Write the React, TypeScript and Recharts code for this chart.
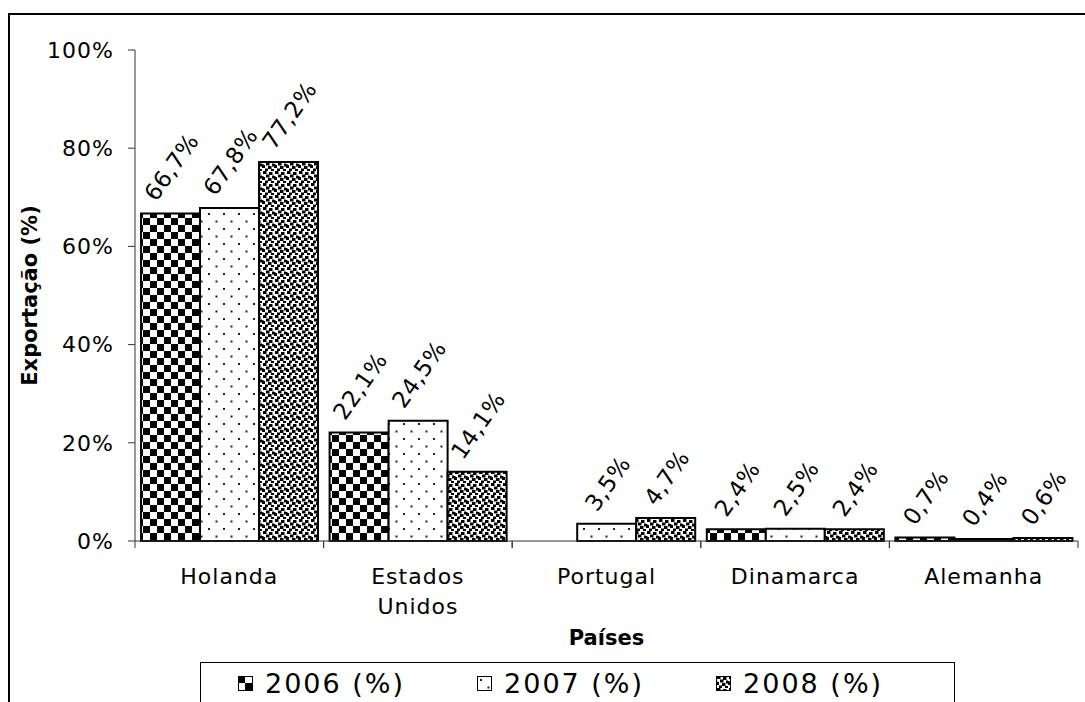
import { BarChart, Bar, XAxis, YAxis } from "recharts";

const countries = ["Holanda", "Estados Unidos", "Portugal", "Dinamarca", "Alemanha"];
const y2006 = [66.7, 22.1, null, 2.4, 0.7];
const y2007 = [67.8, 24.5, 3.5, 2.5, 0.4];
const y2008 = [77.2, 14.1, 4.7, 2.4, 0.6];
const yTicks = [0, 20, 40, 60, 80, 100];
const seriesNames = ["2006 (%)", "2007 (%)", "2008 (%)"];

const data = countries.map((c, i) => ({
  country: c,
  s2006: y2006[i],
  s2007: y2007[i],
  s2008: y2008[i],
}));

const FONT = "'DejaVu Sans', Verdana, sans-serif";
const CHART_W = 1075;
const CHART_H = 687;
const MARGIN = { top: 35, right: 7, left: 0, bottom: 51 };
const Y_W = 125;
const PLOT_W = CHART_W - MARGIN.left - MARGIN.right - Y_W;
const LABEL_SIZE = 23;
const LABEL_ANGLE = 55;

const charW = (ch: string) => (ch === "," ? 0.318 : ch === "%" ? 0.95 : 0.636);
const textWidth = (s: string) =>
  s.split("").reduce((a, ch) => a + charW(ch) * LABEL_SIZE + 0.5, 0);

const fmt = (v: number) => v.toFixed(1).replace(".", ",") + "%";

function BarLabel(props: any) {
  const { value } = props;
  if (value == null) return null;
  const x = Number(props.x);
  const y = Number(props.y);
  const width = Number(props.width);
  const s = fmt(value);
  const w = textWidth(s);
  const rad = (LABEL_ANGLE * Math.PI) / 180;
  const halfH = (w * Math.sin(rad) + 16 * Math.cos(rad)) / 2;
  const cx = x + width / 2 + 1;
  const cy = y - 11 - halfH;
  return (
    <text
      x={cx}
      y={cy}
      textAnchor="middle"
      dominantBaseline="central"
      transform={`rotate(-${LABEL_ANGLE} ${cx} ${cy})`}
      fontFamily={FONT}
      fontSize={LABEL_SIZE}
      letterSpacing={0.5}
      fill="#000"
    >
      {s}
    </text>
  );
}

function CountryTick(props: any) {
  const { x, y, payload } = props;
  const band = PLOT_W / countries.length;
  const lines = String(payload.value).split(" ");
  return (
    <g>
      <line x1={x - band / 2} x2={x - band / 2} y1={y} y2={y + 7} stroke="#333" />
      <line x1={x + band / 2} x2={x + band / 2} y1={y} y2={y + 7} stroke="#333" />
      <text
        x={x}
        y={y + 43}
        textAnchor="middle"
        fontFamily={FONT}
        fontSize={22}
        letterSpacing={1}
        fill="#000"
      >
        {lines.map((l, i) => (
          <tspan key={i} x={x} dy={i === 0 ? 0 : 30}>
            {l}
          </tspan>
        ))}
      </text>
    </g>
  );
}

function YTitle(props: any) {
  const vb = props.viewBox || { x: 0, y: 0, height: 0 };
  const cx = vb.x + 20;
  const cy = vb.y + vb.height / 2;
  return (
    <text
      x={cx}
      y={cy}
      textAnchor="middle"
      dominantBaseline="central"
      transform={`rotate(-90 ${cx} ${cy})`}
      fontFamily={FONT}
      fontSize={21}
      fontWeight="bold"
      fill="#000"
    >
      Exportação (%)
    </text>
  );
}

function Patterns() {
  return (
    <svg width={0} height={0} style={{ position: "absolute" }}>
      <defs>
        <pattern id="p2006" patternUnits="userSpaceOnUse" width={14} height={14}>
          <rect width={14} height={14} fill="#fff" />
          <rect x={0} y={0} width={7} height={7} fill="#000" />
          <rect x={7} y={7} width={7} height={7} fill="#000" />
        </pattern>
        <pattern id="p2007" patternUnits="userSpaceOnUse" width={15} height={15}>
          <rect width={15} height={15} fill="#fff" />
          <rect x={3} y={3} width={2} height={2} fill="#222" />
          <rect x={10.5} y={10.5} width={2} height={2} fill="#222" />
        </pattern>
        <pattern id="p2008" patternUnits="userSpaceOnUse" width={12} height={12}>
          <rect width={12} height={12} fill="#fff" />
          <rect x={1} y={0} width={3.5} height={3} fill="#000" />
          <rect x={7} y={1} width={3.5} height={3} fill="#000" />
          <rect x={4} y={3.5} width={3.5} height={3} fill="#000" />
          <rect x={10} y={4.5} width={2} height={3} fill="#000" />
          <rect x={0} y={5} width={1.5} height={3} fill="#000" />
          <rect x={0} y={6} width={3} height={3} fill="#000" />
          <rect x={6} y={7} width={3.5} height={3} fill="#000" />
          <rect x={3} y={9.5} width={3} height={2.5} fill="#000" />
          <rect x={9} y={10} width={3} height={2} fill="#000" />
        </pattern>
      </defs>
    </svg>
  );
}

const fills = ["url(#p2006)", "url(#p2007)", "url(#p2008)"];

export default function App() {
  return (
    <div style={{ position: "relative", width: 1085, height: 702, overflow: "hidden" }}>
      <style>{`body{margin:0;overflow:hidden}`}</style>
      <Patterns />
      <div
        style={{
          position: "absolute",
          left: 8,
          top: 13,
          width: CHART_W,
          height: CHART_H,
          borderLeft: "2px solid #000",
          borderTop: "2px solid #000",
          background: "#fff",
        }}
      >
        <BarChart
          width={CHART_W}
          height={CHART_H}
          data={data}
          margin={MARGIN}
          barCategoryGap={6}
          barGap={0}
        >
          <XAxis
            dataKey="country"
            height={110}
            stroke="#333"
            tickLine={false}
            tickSize={0}
            tickMargin={0}
            interval={0}
            tick={<CountryTick />}
            label={{
              value: "Países",
              position: "insideBottom",
              offset: 6,
              fontFamily: FONT,
              fontSize: 21,
              fontWeight: "bold",
              fill: "#000",
            }}
          />
          <YAxis
            width={Y_W}
            domain={[0, 100]}
            ticks={yTicks}
            interval={0}
            tickFormatter={(v) => `${v}%`}
            stroke="#333"
            tickSize={7}
            tickMargin={14}
            tick={{ fontFamily: FONT, fontSize: 22, fill: "#000", letterSpacing: 1 }}
            label={<YTitle />}
          />
          <Bar dataKey="s2006" fill={fills[0]} stroke="#000" strokeWidth={2} isAnimationActive={false} label={<BarLabel />} />
          <Bar dataKey="s2007" fill={fills[1]} stroke="#000" strokeWidth={2} isAnimationActive={false} label={<BarLabel />} />
          <Bar dataKey="s2008" fill={fills[2]} stroke="#000" strokeWidth={2} isAnimationActive={false} label={<BarLabel />} />
        </BarChart>
      </div>
      <div
        style={{
          position: "absolute",
          left: 200,
          top: 662,
          width: 755,
          height: 50,
          border: "1px solid #000",
          boxSizing: "border-box",
          display: "flex",
          alignItems: "flex-start",
          paddingLeft: 37,
          paddingTop: 4,
          gap: 72,
          fontFamily: FONT,
          fontSize: 27,
          letterSpacing: 2,
          background: "#fff",
        }}
      >
        {seriesNames.map((n, i) => (
          <div key={n} style={{ display: "flex", alignItems: "center", gap: 12, height: 32 }}>
            <svg width={15} height={15}>
              <rect x={0.5} y={0.5} width={14} height={14} fill={fills[i]} stroke="#000" />
            </svg>
            <span>{n}</span>
          </div>
        ))}
      </div>
    </div>
  );
}
